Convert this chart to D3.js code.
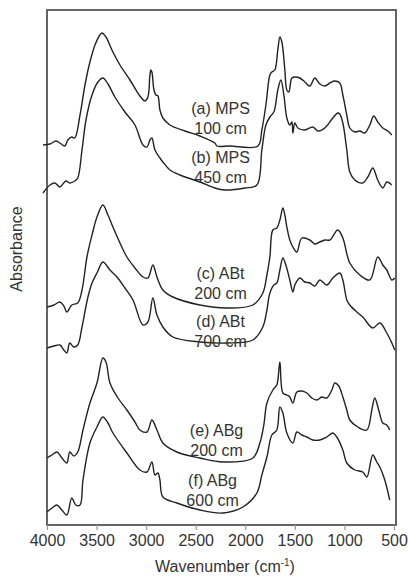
<!DOCTYPE html>
<html>
<head>
<meta charset="utf-8">
<script src="https://cdn.jsdelivr.net/npm/d3@7"></script>
<style>
  body { margin: 0; background: #fff; }
  text { font-family: Arial, "Liberation Sans", sans-serif; fill: #333; }
</style>
</head>
<body>
<div id="chart"></div>
<script>
// spectra, [wavenumber, absorbance + offset]
var specA = [[4040,3.80],[3970,3.81],[3910,3.84],[3870,3.82],[3820,3.79],[3790,3.85],[3750,3.88],[3720,3.87],
  [3667,4.10],[3617,4.40],[3567,4.63],[3516,4.80],[3466,4.90],[3446,4.92],[3405,4.88],[3345,4.75],[3264,4.60],
  [3163,4.45],[3063,4.29],[3012,4.24],[2982,4.28],[2962,4.50],[2952,4.55],[2942,4.53],[2921,4.35],[2901,4.30],
  [2881,4.29],[2861,4.15],[2831,4.07],[2760,4.00],[2609,3.94],[2458,3.89],[2307,3.82],[2286,3.79],[2155,3.79],
  [1873,3.79],[1833,3.95],[1792,4.20],[1752,4.50],[1732,4.53],[1702,4.55],[1672,4.75],[1651,4.88],[1631,4.83],
  [1601,4.55],[1581,4.35],[1561,4.33],[1530,4.47],[1490,4.48],[1450,4.47],[1399,4.43],[1349,4.39],[1299,4.47],
  [1248,4.41],[1198,4.39],[1147,4.42],[1097,4.44],[1047,4.42],[1016,4.30],[976,4.10],[946,3.97],[895,3.93],
  [845,3.94],[795,3.92],[744,4.00],[704,4.09],[664,4.03],[613,3.97],[563,3.94],[522,3.90]];

var specB = [[4040,3.32],[3970,3.40],[3920,3.42],[3870,3.38],[3810,3.44],[3770,3.42],[3720,3.44],[3690,3.47],
  [3647,3.75],[3607,4.05],[3546,4.30],[3486,4.43],[3436,4.47],[3385,4.41],[3315,4.28],[3214,4.13],[3113,4.00],
  [3032,3.80],[2992,3.78],[2962,3.85],[2942,3.87],[2911,3.75],[2861,3.67],[2831,3.63],[2760,3.55],[2659,3.50],
  [2458,3.43],[2307,3.37],[2206,3.35],[2004,3.37],[1883,3.40],[1833,3.75],[1792,4.00],[1752,4.08],[1712,4.13],
  [1672,4.35],[1641,4.45],[1611,4.30],[1581,4.07],[1551,4.00],[1530,4.03],[1520,3.92],[1500,4.02],[1470,3.97],
  [1399,3.95],[1319,3.98],[1268,3.94],[1198,3.97],[1117,4.07],[1067,4.12],[1047,4.11],[1016,4.02],[976,3.75],
  [946,3.53],[895,3.45],[815,3.42],[764,3.48],[714,3.57],[664,3.45],[613,3.37],[573,3.43],[522,3.40]];

var specC = [[4000,2.18],[3930,2.20],[3870,2.23],[3830,2.19],[3800,2.13],[3750,2.20],[3690,2.22],[3647,2.35],
  [3597,2.68],[3546,2.90],[3496,3.08],[3436,3.20],[3385,3.10],[3335,2.98],[3264,2.82],[3194,2.68],[3113,2.57],
  [3032,2.48],[2982,2.47],[2932,2.60],[2891,2.48],[2831,2.35],[2730,2.28],[2458,2.20],[2186,2.17],[1924,2.20],
  [1823,2.32],[1782,2.50],[1752,2.68],[1722,2.95],[1682,2.97],[1651,3.05],[1621,3.17],[1601,3.10],[1581,2.98],
  [1551,2.85],[1520,2.78],[1480,2.73],[1430,2.87],[1349,2.85],[1299,2.81],[1248,2.83],[1198,2.85],[1147,2.85],
  [1067,2.95],[1016,2.87],[946,2.62],[845,2.50],[744,2.45],[664,2.68],[613,2.60],[573,2.55],[522,2.45],[492,2.47]];

var specD = [[4000,1.77],[3930,1.79],[3870,1.80],[3830,1.75],[3800,1.72],[3770,1.82],[3730,1.78],[3690,1.80],
  [3647,1.98],[3587,2.28],[3546,2.42],[3496,2.52],[3436,2.63],[3365,2.55],[3294,2.48],[3214,2.37],[3133,2.25],
  [3032,2.00],[2982,2.03],[2932,2.27],[2891,2.10],[2831,1.98],[2730,1.88],[2458,1.83],[2186,1.82],[1924,1.85],
  [1823,1.98],[1782,2.15],[1752,2.32],[1712,2.40],[1682,2.42],[1651,2.55],[1621,2.67],[1591,2.60],[1551,2.45],
  [1520,2.33],[1500,2.40],[1450,2.47],[1399,2.43],[1349,2.42],[1299,2.39],[1248,2.45],[1178,2.40],[1117,2.47],
  [1047,2.52],[1016,2.45],[976,2.25],[946,2.20],[875,2.13],[815,2.08],[714,1.97],[643,2.02],[573,1.92],
  [522,1.82],[492,1.75]];

var specE = [[4000,0.67],[3950,0.70],[3900,0.73],[3850,0.67],[3800,0.62],[3770,0.73],[3730,0.69],[3690,0.73],
  [3637,0.95],[3567,1.22],[3496,1.42],[3436,1.67],[3405,1.63],[3365,1.42],[3284,1.27],[3194,1.15],[3113,1.03],
  [3063,0.95],[2992,0.93],[2942,1.05],[2891,0.95],[2831,0.82],[2690,0.73],[2458,0.67],[2226,0.63],[1924,0.67],
  [1853,0.82],[1813,1.00],[1782,1.22],[1722,1.35],[1682,1.40],[1651,1.63],[1621,1.32],[1581,1.30],[1551,1.28],
  [1520,1.22],[1480,1.33],[1430,1.34],[1379,1.32],[1329,1.27],[1278,1.25],[1228,1.28],[1178,1.27],[1127,1.35],
  [1097,1.42],[1057,1.39],[1016,1.28],[976,1.15],[946,1.05],[865,0.98],[774,0.95],[724,1.15],[694,1.27],
  [654,1.15],[613,1.02],[573,1.00],[543,0.95]];

var specF = [[4000,0.13],[3950,0.17],[3900,0.20],[3850,0.15],[3800,0.10],[3750,0.27],[3710,0.20],[3667,0.20],
  [3637,0.45],[3567,0.82],[3496,0.98],[3436,1.08],[3385,1.02],[3335,0.92],[3194,0.72],[3063,0.55],[2992,0.53],
  [2942,0.63],[2911,0.50],[2881,0.52],[2861,0.45],[2831,0.28],[2690,0.22],[2458,0.15],[2226,0.12],[2024,0.18],
  [1883,0.32],[1833,0.50],[1782,0.68],[1732,0.90],[1682,0.95],[1651,1.18],[1621,1.12],[1581,0.92],[1520,0.82],
  [1480,0.93],[1430,0.90],[1379,0.88],[1319,0.85],[1248,0.85],[1178,0.88],[1117,0.92],[1077,0.88],[1016,0.75],
  [976,0.62],[895,0.55],[815,0.53],[774,0.48],[714,0.70],[674,0.63],[643,0.58],[593,0.45],[543,0.25]];

var spectra = [specA, specB, specC, specD, specE, specF];
var sampleNames = ["(a) MPS", "(b) MPS", "(c) ABt", "(d) ABt", "(e) ABg", "(f) ABg"];
var sampleDepths = ["100 cm", "450 cm", "200 cm", "700 cm", "200 cm", "600 cm"];
// where each label sits: wavenumber and level on the offset axis
var labelWn = [2250, 2250, 2250, 2250, 2290, 2330];
var labelLevel = [4.17, 3.68, 2.52, 2.04, 0.95, 0.45];
var xTicks = [4000, 3500, 3000, 2500, 2000, 1500, 1000, 500];

var W = 408, H = 577;
var margin = {top: 10, right: 12, bottom: 52, left: 47};
var innerW = W - margin.left - margin.right,
    innerH = H - margin.top - margin.bottom;

var svg = d3.select("#chart")
  .append("svg")
    .attr("width", W)
    .attr("height", H);

var g = svg.append("g")
    .attr("transform", "translate(" + margin.left + "," + margin.top + ")");

var x = d3.scaleLinear()
    .domain([4000, 500])
    .range([0, 347]);

var y = d3.scaleLinear()
    .domain([0, 5.15])
    .range([innerH, 0]);

// frame
g.append("rect")
    .attr("x", 0)
    .attr("y", 0)
    .attr("width", innerW)
    .attr("height", innerH)
    .attr("fill", "none")
    .attr("stroke", "#555")
    .attr("stroke-width", 1.8);

// x axis
var xAxis = g.append("g")
    .attr("transform", "translate(0," + innerH + ")")
    .call(d3.axisBottom(x).tickValues(xTicks).tickSize(5).tickPadding(5).tickFormat(d3.format("d")));
xAxis.select(".domain").remove();
xAxis.selectAll(".tick line").attr("stroke", "#999").attr("stroke-width", 1.2);
xAxis.selectAll(".tick text")
    .attr("font-size", 16)
    .attr("fill", "#333")
    .style("font-family", "Arial, 'Liberation Sans', sans-serif");

// spectra
var line = d3.line()
    .x(function(d) { return x(d[0]); })
    .y(function(d) { return y(d[1]); })
    .curve(d3.curveCatmullRom.alpha(0.5));

g.selectAll(".spec")
  .data(spectra)
  .enter().append("path")
    .attr("class", "spec")
    .attr("fill", "none")
    .attr("stroke", "#222")
    .attr("stroke-width", 1.4)
    .attr("stroke-linejoin", "round")
    .attr("d", line);

// sample labels
spectra.forEach(function(s, i) {
  var t = g.append("text")
      .attr("x", x(labelWn[i]))
      .attr("y", y(labelLevel[i]))
      .attr("text-anchor", "middle")
      .attr("font-size", 16)
      .attr("dominant-baseline", "central");
  t.append("tspan").attr("x", x(labelWn[i])).text(sampleNames[i]);
  t.append("tspan").attr("x", x(labelWn[i])).attr("dy", 19.5).text(sampleDepths[i]);
});

// axis titles
var xt = svg.append("text")
    .attr("x", 225)
    .attr("y", 572)
    .attr("text-anchor", "middle")
    .attr("font-size", 16);
xt.append("tspan").text("Wavenumber (cm");
xt.append("tspan").attr("font-size", 10).attr("dy", -6).text("-1");
xt.append("tspan").attr("dy", 6).text(")");

svg.append("text")
    .attr("transform", "translate(22,249) rotate(-90)")
    .attr("text-anchor", "middle")
    .attr("font-size", 16)
    .text("Absorbance");
</script>
</body>
</html>
